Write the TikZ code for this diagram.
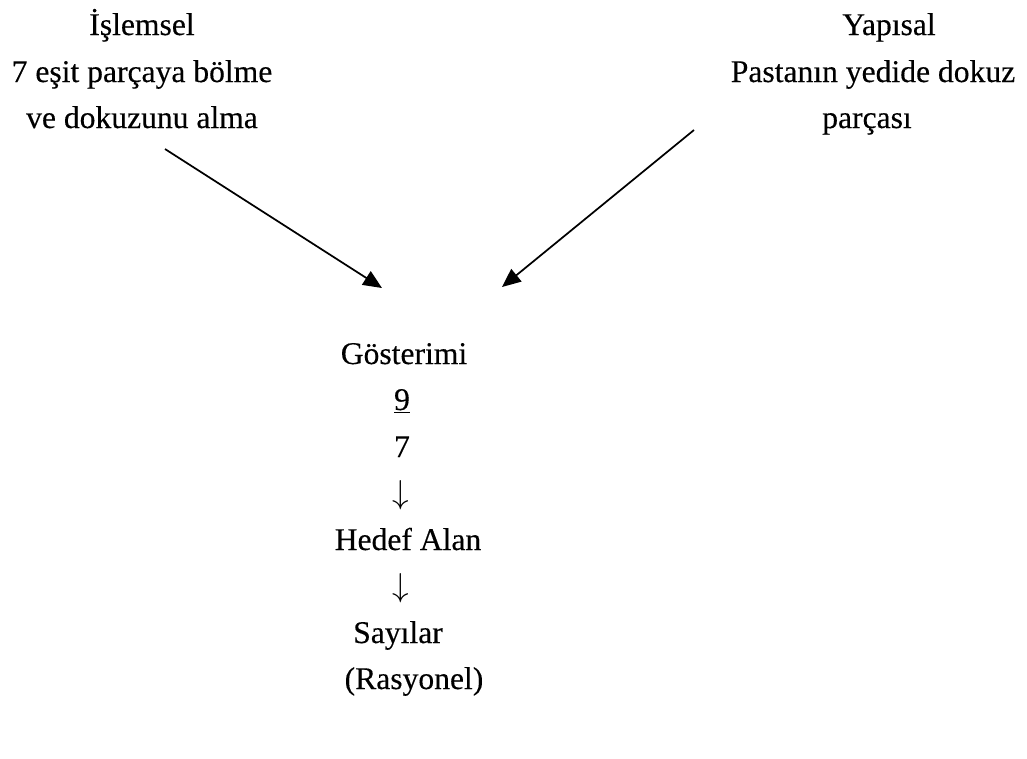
\documentclass[tikz,border=0pt]{standalone}
\usepackage{fontspec}
\setmainfont[FakeBold=0.3]{Liberation Serif}
\usetikzlibrary{arrows.meta}
\begin{document}
\begin{tikzpicture}[x=0.75pt,y=-0.75pt,
  lbl/.style={anchor=base,inner sep=0pt,font=\fontsize{23.7}{28}\selectfont},
  conn/.style={line width=1.3pt,-{Triangle[length=14pt,width=12pt]}}]
\useasboundingbox (0,0) rectangle (1027,758);
% left block
\node[lbl] (l1) at (142,35) {İşlemsel};
\node[lbl] (l2) at (142,82) {7 eşit parçaya bölme};
\node[lbl] (l3) at (142,128) {ve dokuzunu alma};
% right block
\node[lbl] (r1) at (889,35) {Yapısal};
\node[lbl] (r2) at (873,82) {Pastanın yedide dokuz};
\node[lbl] (r3) at (867,128) {parçası};
% centre column
\node[lbl] (g)  at (404,364) {Gösterimi};
\node[lbl] (n9) at (402,410) {\underline{9}};
\node[lbl] (n7) at (402,457) {7};
\node[lbl] (a1) at (401,503) {$\downarrow$};
\node[lbl] (h)  at (408,550) {Hedef Alan};
\node[lbl] (a2) at (401,596) {$\downarrow$};
\node[lbl] (s)  at (398,643) {Sayılar};
\node[lbl] (r)  at (414,689) {(Rasyonel)};
% connectors
\coordinate (ls) at (165,149);
\coordinate (lt) at (382,288);
\coordinate (rs) at (694,130);
\coordinate (rt) at (502,287);
\draw[conn] (ls) -- (lt);
\draw[conn] (rs) -- (rt);
\end{tikzpicture}
\end{document}
